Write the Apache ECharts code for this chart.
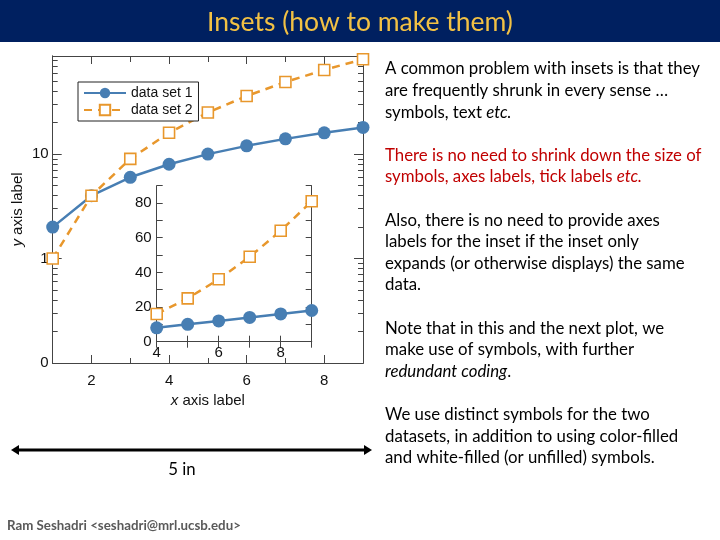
<!DOCTYPE html>
<html>
<head>
<meta charset="utf-8">
<style>
  html, body { margin: 0; padding: 0; background: #fff; }
  #main { width: 720px; height: 540px; }
</style>
<script src="https://cdn.jsdelivr.net/npm/echarts@6/dist/echarts.min.js"></script>
</head>
<body>
<div id="main"></div>
<script>
// data
const xValues = [1, 2, 3, 4, 5, 6, 7, 8, 9]
const dataSet1 = [2, 4, 6, 8, 10, 12, 14, 16, 18]
const dataSet2 = [1, 4, 9, 16, 25, 36, 49, 64, 81]
const insetStartX = 4

// ticks
const mainXMajor = [2, 4, 6, 8]
const mainXMinor = [1, 3, 5, 7, 9]
const mainYMajor = [0.1, 1, 10]
const mainYMinor = [0.2, 0.3, 0.4, 0.5, 0.6, 0.7, 0.8, 0.9, 2, 3, 4, 5, 6, 7, 8, 9, 20, 30, 40, 50, 60, 70, 80]
const mainYLabelText = { 0.1: '0', 1: '1', 10: '10' }
const insetXLabels = [4, 6, 8]
const insetYLabels = [0, 20, 40, 60, 80]

// slide text, {i|..} is italic
const sideText = [
  ['A common problem with insets is that they', 0, '#000'],
  ['are frequently shrunk in every sense \u2026', 1, '#000'],
  ['symbols, text {i|etc.}', 2, '#000'],
  ['There is no need to shrink down the size of', 4, '#c00000'],
  ['symbols, axes labels, tick labels {ir|etc.}', 5, '#c00000'],
  ['Also, there is no need to provide axes', 7, '#000'],
  ['labels for the inset if the inset only', 8, '#000'],
  ['expands (or otherwise displays) the same', 9, '#000'],
  ['data.', 10, '#000'],
  ['Note that in this and the next plot, we', 12, '#000'],
  ['make use of symbols, with further', 13, '#000'],
  ['{i|redundant coding}.', 14, '#000'],
  ['We use distinct symbols for the two', 16, '#000'],
  ['datasets, in addition to using color-filled', 17, '#000'],
  ['and white-filled (or unfilled) symbols.', 18, '#000']
]

const BLUE = '#477eb3'
const ORANGE = '#e8972c'
const FRAME = '#444'
const AXIS_FONT = 'Liberation Sans, Arial, sans-serif'
const SLIDE_FONT = 'Lato, sans-serif'
const BODY_SIZE = '16.8px '

const pts = (ys, from) =>
  xValues.map((x, i) => [x, ys[i]]).filter(p => p[0] >= from)

function ax(base, opts) {
  return Object.assign({
    axisLine: { show: true, lineStyle: { color: FRAME, width: 1 } },
    axisTick: { show: false },
    axisLabel: { show: false },
    splitLine: { show: false }
  }, base, opts)
}

function ticks(values, len) {
  return { show: true, inside: true, length: len, customValues: values, lineStyle: { color: FRAME, width: 1 } }
}

const axisLabelStyle = { color: '#111', fontSize: 15, fontFamily: AXIS_FONT }
const axisNameStyle = {
  fontSize: 15, fontFamily: AXIS_FONT, color: '#111',
  rich: { i: { fontStyle: 'italic', fontSize: 15, fontFamily: AXIS_FONT, color: '#111' } }
}

const chart = echarts.init(document.getElementById('main'), null, { renderer: 'canvas' })

const mainX = { type: 'value', gridIndex: 0, min: 1, max: 9 }
const mainY = { type: 'log', gridIndex: 0, min: 0.1, max: 87, logBase: 10 }
const insetX = { type: 'value', gridIndex: 1, min: 4, max: 9, interval: 1, z: 6 }
const insetY = { type: 'value', gridIndex: 1, min: 0, max: 90, interval: 10, z: 6 }

chart.setOption({
  animation: false,
  grid: [
    { left: 52.7, right: 357, top: 56, bottom: 177, containLabel: false },
    { left: 156.7, right: 408.3, top: 185.7, bottom: 198.3, show: true, backgroundColor: '#fff', borderWidth: 0, z: 5 }
  ],
  legend: {
    orient: 'vertical',
    left: 78,
    top: 82,
    padding: [4, 6, 4, 5],
    itemGap: 3,
    itemWidth: 42,
    itemHeight: 13,
    backgroundColor: '#fff',
    borderColor: '#222',
    borderWidth: 1,
    textStyle: { fontSize: 14, fontFamily: AXIS_FONT, color: '#111' },
    data: ['data set 1', 'data set 2']
  },
  xAxis: [
    ax(mainX, {
      position: 'bottom',
      axisTick: ticks(mainXMajor, 8),
      axisLabel: Object.assign({ show: true, customValues: mainXMajor, margin: 10 }, axisLabelStyle),
      name: '{i|x} axis label',
      nameLocation: 'middle',
      nameGap: 28,
      nameTextStyle: axisNameStyle
    }),
    ax(mainX, { position: 'bottom', axisTick: ticks(mainXMinor, 5) }),
    ax(mainX, { position: 'top', axisTick: ticks(mainXMajor, 8) }),
    ax(mainX, { position: 'top', axisTick: ticks(mainXMinor, 6) }),
    ax(insetX, {
      position: 'bottom',
      axisTick: { show: true, inside: true, length: 6, lineStyle: { color: FRAME } },
      axisLabel: Object.assign({ show: true, customValues: insetXLabels, margin: 4 }, axisLabelStyle)
    }),
    ax(insetX, { position: 'top', axisTick: { show: true, inside: true, length: 6, lineStyle: { color: FRAME } } })
  ],
  yAxis: [
    ax(mainY, {
      position: 'left',
      axisTick: ticks(mainYMajor, 9),
      axisLabel: Object.assign({
        show: true, customValues: mainYMajor, margin: 4,
        formatter: v => mainYLabelText[+v.toPrecision(3)] ?? ''
      }, axisLabelStyle),
      name: '{i|y} axis label',
      nameLocation: 'middle',
      nameGap: 27,
      nameTextStyle: axisNameStyle
    }),
    ax(mainY, { position: 'left', axisTick: ticks(mainYMinor, 5) }),
    ax(mainY, { position: 'right', axisTick: ticks(mainYMajor, 9) }),
    ax(mainY, { position: 'right', axisTick: ticks(mainYMinor, 5) }),
    ax(insetY, {
      position: 'left',
      axisTick: { show: true, inside: true, length: 6, lineStyle: { color: FRAME } },
      axisLabel: Object.assign({ show: true, customValues: insetYLabels, margin: 5 }, axisLabelStyle)
    }),
    ax(insetY, { position: 'right', axisTick: { show: true, inside: true, length: 6, lineStyle: { color: FRAME } } })
  ],
  series: [
    {
      name: 'data set 1', type: 'line', xAxisIndex: 0, yAxisIndex: 0, clip: false, z: 2,
      data: pts(dataSet1, 1),
      symbol: 'circle', symbolSize: 13,
      itemStyle: { color: BLUE },
      lineStyle: { color: BLUE, width: 2.5 }
    },
    {
      name: 'data set 2', type: 'line', xAxisIndex: 0, yAxisIndex: 0, clip: false, z: 2,
      data: pts(dataSet2, 1),
      symbol: 'rect', symbolSize: 11,
      itemStyle: { color: '#fff', borderColor: ORANGE, borderWidth: 1.6 },
      lineStyle: { color: ORANGE, width: 2.5, type: [8, 6] }
    },
    {
      name: 'inset 1', type: 'line', xAxisIndex: 4, yAxisIndex: 4, clip: false, z: 7,
      data: pts(dataSet1, insetStartX),
      symbol: 'circle', symbolSize: 13,
      itemStyle: { color: BLUE },
      lineStyle: { color: BLUE, width: 2.5 }
    },
    {
      name: 'inset 2', type: 'line', xAxisIndex: 4, yAxisIndex: 4, clip: false, z: 7,
      data: pts(dataSet2, insetStartX),
      symbol: 'rect', symbolSize: 11,
      itemStyle: { color: '#fff', borderColor: ORANGE, borderWidth: 1.6 },
      lineStyle: { color: ORANGE, width: 2.5, type: [8, 6] }
    }
  ],
  graphic: [
    { type: 'rect', shape: { x: 0, y: 0, width: 720, height: 42 }, style: { fill: '#002060' }, z: 20 },
    {
      type: 'text', x: 360, y: 22, z: 21,
      style: { text: 'Insets (how to make them)', fill: '#f2c144', font: '26.5px ' + SLIDE_FONT, align: 'center', verticalAlign: 'middle' }
    },
    ...sideText.map(([t, k, c]) => ({
      type: 'text', x: 385, y: 69 + k * 21.6, z: 21,
      style: {
        text: t, fill: c, font: BODY_SIZE + SLIDE_FONT, verticalAlign: 'middle',
        rich: {
          i: { fill: '#000', font: 'italic ' + BODY_SIZE + SLIDE_FONT },
          ir: { fill: '#c00000', font: 'italic ' + BODY_SIZE + SLIDE_FONT }
        }
      }
    })),
    // 5 inch scale arrow
    { type: 'line', shape: { x1: 17, y1: 450, x2: 366, y2: 450 }, style: { stroke: '#000', lineWidth: 3 }, z: 21 },
    { type: 'polygon', shape: { points: [[11, 450], [19, 445], [19, 455]] }, style: { fill: '#000' }, z: 21 },
    { type: 'polygon', shape: { points: [[372, 450], [364, 445], [364, 455]] }, style: { fill: '#000' }, z: 21 },
    {
      type: 'text', x: 182, y: 470, z: 21,
      style: { text: '5 in', fill: '#000', font: BODY_SIZE + SLIDE_FONT, align: 'center', verticalAlign: 'middle' }
    },
    {
      type: 'text', x: 7, y: 526, z: 21,
      style: { text: 'Ram Seshadri <seshadri@mrl.ucsb.edu>', fill: '#595959', font: 'bold 13.3px ' + SLIDE_FONT, verticalAlign: 'middle' }
    }
  ]
})
</script>
</body>
</html>
